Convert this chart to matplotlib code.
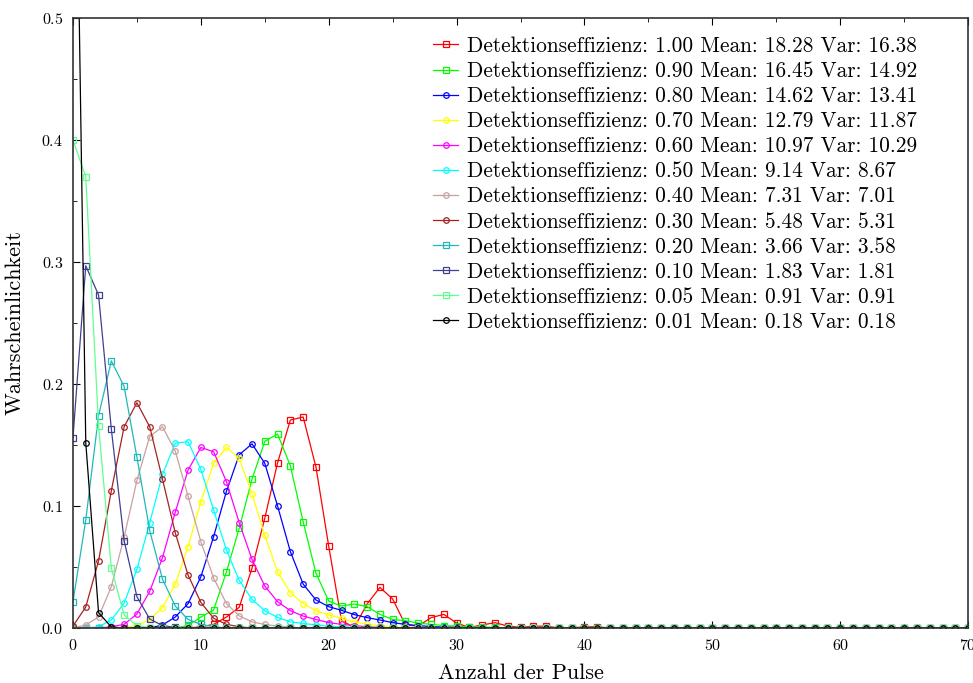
import numpy as np
import matplotlib
matplotlib.use("Agg")
import matplotlib.pyplot as plt
from matplotlib.ticker import MultipleLocator

plt.rcParams['font.family'] = 'cmr10'
plt.rcParams['axes.formatter.use_mathtext'] = True
plt.rcParams['mathtext.fontset'] = 'cm'

n_pulse = np.arange(0, 71)

# Werte (ab x = 0, Rest ist 0)
eff_100 = [0, 0, 0, 0, 0, 0, 0, 0, 0, 0, 0.001, 0.003, 0.009, 0.017, 0.049, 0.09,
           0.1355, 0.1705, 0.173, 0.132, 0.067, 0.006, 0.0005, 0.0197, 0.0333,
           0.0238, 0.0025, 0.0016, 0.0085, 0.0112, 0.004, 0.0005, 0.0025, 0.0044,
           0.0016, 0.0005, 0.0015, 0.0015, 0, 0, 0.001, 0.001]
eff_090 = [0, 0, 0, 0, 0, 0, 0, 0, 0, 0.002, 0.009, 0.0148, 0.046, 0.0817, 0.122,
           0.153, 0.159, 0.133, 0.087, 0.045, 0.022, 0.018, 0.0197, 0.0175, 0.0112,
           0.007, 0.006, 0.004, 0.003, 0.002, 0.0015, 0.001, 0.0008, 0.0005]
eff_080 = [0, 0, 0, 0, 0, 0, 0, 0.0025, 0.009, 0.02, 0.042, 0.075, 0.112, 0.142,
           0.151, 0.135, 0.1, 0.0626, 0.036, 0.023, 0.0175, 0.0145, 0.011, 0.0085,
           0.0066, 0.0044, 0.003, 0.002, 0.0012, 0.0008, 0.0005]
eff_070 = [0, 0, 0, 0, 0, 0.002, 0.007, 0.0167, 0.036, 0.0667, 0.1036, 0.135, 0.148,
           0.139, 0.11, 0.076, 0.046, 0.029, 0.02, 0.0142, 0.0107, 0.008, 0.005,
           0.003, 0.002, 0.001, 0.0005]
eff_060 = [0, 0, 0, 0.001, 0.003, 0.0115, 0.03, 0.0577, 0.095, 0.1295, 0.148, 0.1445,
           0.12, 0.0863, 0.0563, 0.0344, 0.0216, 0.0142, 0.0098, 0.007, 0.0044, 0.003,
           0.002, 0.001, 0.0005]
eff_050 = [0, 0, 0.001, 0.0066, 0.0205, 0.048, 0.0863, 0.126, 0.1516, 0.1527, 0.13,
           0.0967, 0.064, 0.039, 0.0235, 0.0142, 0.0087, 0.005, 0.0038, 0.0025, 0.0015,
           0.001, 0.0005]
eff_040 = [0, 0.0025, 0.009, 0.034, 0.0745, 0.121, 0.157, 0.165, 0.145, 0.108, 0.0708,
           0.041, 0.02, 0.01, 0.005, 0.003, 0.0015, 0.0008]
eff_030 = [0.0016, 0.0172, 0.055, 0.1126, 0.165, 0.1847, 0.165, 0.122, 0.078, 0.0434,
           0.021, 0.008, 0.003, 0.001]
eff_020 = [0.0216, 0.0885, 0.174, 0.219, 0.198, 0.14, 0.08, 0.04, 0.018, 0.007, 0.003,
           0.001]
eff_010 = [0.156, 0.297, 0.273, 0.163, 0.0716, 0.0257, 0.0074, 0.002, 0.0005]
eff_005 = [0.40, 0.37, 0.166, 0.049, 0.0107, 0.002, 0.0003]
eff_001 = [0.835, 0.152, 0.0126, 0.0008]

efficiencies = ["1.00", "0.90", "0.80", "0.70", "0.60", "0.50", "0.40", "0.30",
                "0.20", "0.10", "0.05", "0.01"]
means = ["18.28", "16.45", "14.62", "12.79", "10.97", "9.14", "7.31", "5.48",
         "3.66", "1.83", "0.91", "0.18"]
variances = ["16.38", "14.92", "13.41", "11.87", "10.29", "8.67", "7.01", "5.31",
             "3.58", "1.81", "0.91", "0.18"]

series = [eff_100, eff_090, eff_080, eff_070, eff_060, eff_050,
          eff_040, eff_030, eff_020, eff_010, eff_005, eff_001]
colors = ['#ff0000', '#00ff00', '#0000ff', '#ffff00', '#ff00ff', '#00ffff',
          '#c8a0a0', '#a82020', '#20b8b8', '#404090', '#60ff90', '#000000']
markers = ['s', 's', 'o', 'o', 'o', 'o', 'o', 'o', 's', 's', 's', 'o']

fig = plt.figure(figsize=(9.73, 6.83), dpi=100)
ax = fig.add_axes([0.075, 0.0805, 0.92, 0.893])

for vals, c, m, e, mu, var in zip(series, colors, markers, efficiencies, means, variances):
    y = np.zeros(len(n_pulse))
    y[:len(vals)] = vals
    ax.plot(n_pulse, y, color=c, lw=0.9, marker=m, ms=4, mfc='none', mew=0.9,
            label=f"Detektionseffizienz: {e} Mean: {mu} Var: {var}")

ax.set_xlim(0, 70)
ax.set_ylim(0, 0.5)
ax.xaxis.set_major_locator(MultipleLocator(10))
ax.xaxis.set_minor_locator(MultipleLocator(5))
ax.yaxis.set_major_locator(MultipleLocator(0.1))
ax.yaxis.set_minor_locator(MultipleLocator(0.05))
ax.tick_params(which='both', direction='in', top=True, right=False, labelsize=11.5)
ax.tick_params(which='major', length=5, pad=7)
ax.tick_params(which='minor', length=3)
for s in ax.spines.values():
    s.set_linewidth(1.2)
    s.set_color('#333333')

ax.set_xlabel("Anzahl der Pulse", fontsize=16, labelpad=8)
ax.set_ylabel("Wahrscheinlichkeit", fontsize=16, labelpad=12)

ax.legend(loc='upper left', bbox_to_anchor=(0.402, 0.970), frameon=False,
          fontsize=15.4, handlelength=1.2, handletextpad=0.4, labelspacing=0.26,
          borderpad=0, borderaxespad=0)

fig.savefig("out.png", dpi=100)
